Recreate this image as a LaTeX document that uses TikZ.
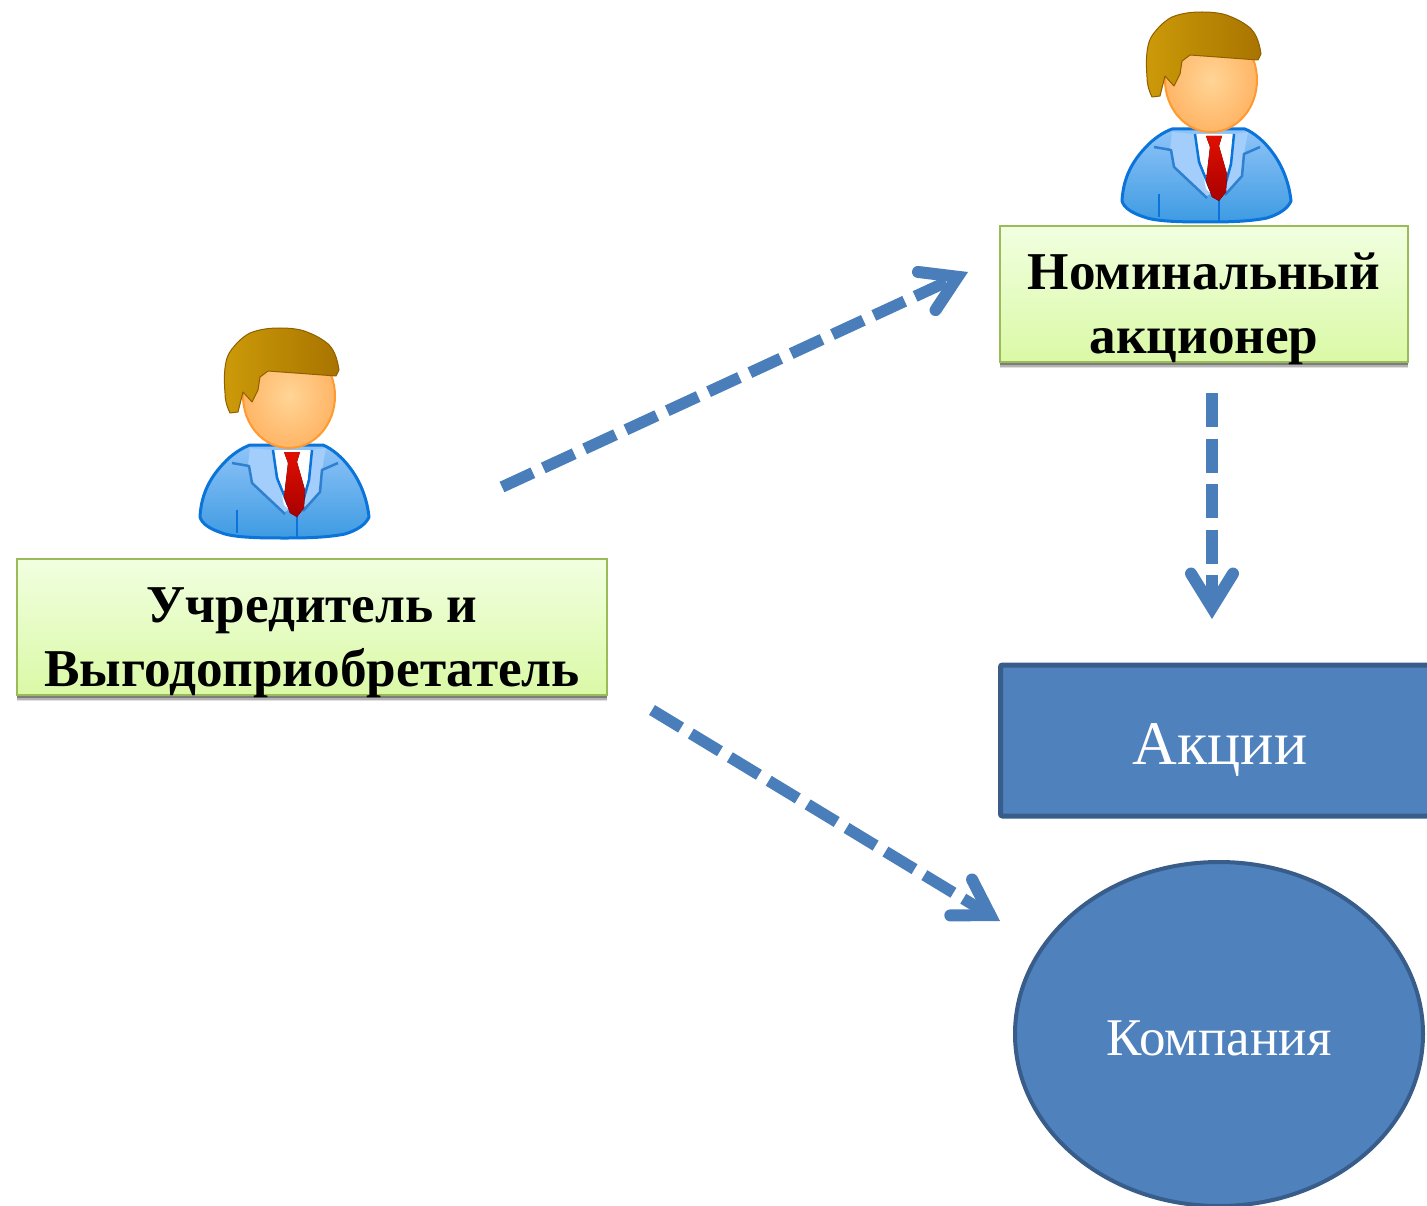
\documentclass[tikz,border=0pt]{standalone}
\usepackage{fontspec}
\setmainfont{Liberation Serif}
\usetikzlibrary{arrows.meta,shadows,shapes.geometric}
\definecolor{flowblue}{HTML}{4F81BD}
\definecolor{flowedge}{HTML}{385D8A}
\definecolor{greenedge}{HTML}{9BBB59}
\definecolor{greentop}{HTML}{F1FFE0}
\definecolor{greenbot}{HTML}{DAF9A6}
\definecolor{arrowblue}{HTML}{4A7EBB}
\definecolor{suittop}{HTML}{8FC4F8}
\definecolor{suitbot}{HTML}{3E9BE2}
\definecolor{suitedge}{HTML}{0B74DA}
\definecolor{lapel}{HTML}{A3CDFB}
\definecolor{lapelline}{HTML}{2F80D0}
\definecolor{hairl}{HTML}{CC9A08}
\definecolor{hairr}{HTML}{A87400}
\definecolor{hairedge}{HTML}{8F6000}
\definecolor{facein}{HTML}{FFD596}
\definecolor{faceout}{HTML}{FFB566}
\definecolor{faceedge}{HTML}{FF9A30}
\definecolor{tietop}{HTML}{E01000}
\definecolor{tiebot}{HTML}{A80000}
\tikzset{
  softshadow/.style={
    drop shadow={shadow xshift=0pt,shadow yshift=-6pt,opacity=.12,fill=black},
    drop shadow={shadow xshift=0pt,shadow yshift=-4.5pt,opacity=.2,fill=black},
    drop shadow={shadow xshift=0pt,shadow yshift=-3pt,opacity=.3,fill=black}},
  labelbox/.style={draw=greenedge,line width=2pt,top color=greentop,bottom color=greenbot,
    minimum height=136pt,align=center,inner xsep=0pt,inner ysep=-8pt,
    font=\fontsize{53.2}{64}\selectfont\bfseries,text=black,softshadow},
  bluefig/.style={draw=flowedge,line width=5pt,fill=flowblue,text=white,inner sep=0pt},
  flowarrow/.style={draw=arrowblue,line width=11.5pt,dash pattern=on 34pt off 11.5pt,
    -{Straight Barb[line cap=round,line join=miter,length=34pt,width=42pt,line width=12pt]}},
  personicon/.pic={
    % body
    \path[top color=suittop,bottom color=suitbot,draw=suitedge,line width=3pt,line join=round]
      (200,517) .. controls (201,497) and (208,480) .. (223,464)
      .. controls (232,454) and (242,448) .. (250,445)
      -- (323,445) .. controls (340,452) and (365,478) .. (369,517)
      .. controls (366,524) and (358,530) .. (345,534)
      .. controls (325,538) and (300,538) .. (285,538)
      .. controls (265,538) and (235,538) .. (222,533)
      .. controls (210,529) and (202,524) .. (200,517) -- cycle;
    % lapel panels
    \fill[lapel] (250,448) -- (272,450) -- (288,510) -- (283,513) -- (252,483) -- (248,465) -- cycle;
    \fill[lapel] (312,450) -- (326,448) -- (322,470) -- (320,492) -- (303,510) -- (299,505) -- cycle;
    % shirt
    \fill[white] (273,450) -- (312,450) -- (306,492) -- (296,516) -- (284,505) -- cycle;
    % lapel lines
    \draw[lapelline,line width=2.5pt,line join=round]
      (232,463) -- (249,466) -- (252,483) -- (285,514);
    \draw[suitedge,line width=2.5pt,line join=round]
      (273,450) -- (277,478) -- (288,505);
    \draw[lapelline,line width=2.5pt,line join=round]
      (338,463) -- (322,470) -- (320,492) -- (303,511);
    \draw[suitedge,line width=2.5pt,line join=round]
      (312,450) -- (309,480) -- (302,505);
    \draw[suitedge,line width=2.5pt] (297,517) -- (297,537);
    \draw[suitedge,line width=2.5pt] (237,510) -- (237,533);
    % tie
    \fill[top color=tietop,bottom color=tiebot]
      (284,452) -- (300,452) -- (297,462) -- (305,490) -- (304,508) -- (297,517)
      -- (290,513) -- (284,497) -- (288,463) -- cycle;
    % face
    \path[inner color=facein,outer color=faceout,draw=faceedge,line width=2pt]
      (289,396) ellipse [x radius=46,y radius=52];
    % hair
    \path[left color=hairl,right color=hairr,draw=hairedge,line width=1pt,line join=round]
      (230,413) .. controls (226,405) and (225,398) .. (225,393)
      .. controls (224,380) and (224,368) .. (227,358)
      .. controls (230,350) and (233,348) .. (237,343)
      .. controls (242,338) and (246,335) .. (250,333)
      .. controls (260,329) and (270,328) .. (280,328)
      .. controls (290,328) and (300,329) .. (307,332)
      .. controls (315,335) and (322,339) .. (327,343)
      .. controls (333,348) and (337,356) .. (339,370)
      -- (336,376) -- (268,371) -- (260,377) -- (258,390) -- (252,402)
      -- (243,392) -- (238,412) -- cycle;
  }
}
\begin{document}
\begin{tikzpicture}[x=1pt,y=-1pt]
\useasboundingbox (0,0) rectangle (1427,1206);
\begin{scope}
\clip (0,0) rectangle (1427,1206);
\pic at (0,0) {personicon};
\pic at (922,-316) {personicon};

\node[labelbox,minimum width=590pt] (founder) at (312,627) {\rule{0pt}{66pt}Учредитель и\\Выгодоприобретатель};
\node[labelbox,minimum width=408pt] (nominee) at (1204,294) {\rule{0pt}{66pt}Номинальный\\акционер};

\node[bluefig,rounded corners=2pt,minimum width=460pt,minimum height=151pt,anchor=west] (shares) at (998,740.5) {};
\node[text=white,font=\fontsize{62}{70}\selectfont,anchor=center] (shareslabel) at (1220,750) {Акции};
\node[bluefig,line width=4pt,ellipse,minimum width=408pt,minimum height=344pt,
      font=\fontsize{53}{60}\selectfont] (company) at (1219,1034) {\rule{0pt}{44pt}Компания};

\coordinate (a1s) at (502,487);
\coordinate (a1e) at (968,272);
\coordinate (a2s) at (1212,393);
\coordinate (a2e) at (1212,619);
\coordinate (a3s) at (652,710);
\coordinate (a3e) at (1000,921);
\draw[flowarrow] (a1s) -- (a1e);
\draw[flowarrow] (a2s) -- (a2e);
\draw[flowarrow] (a3s) -- (a3e);
\end{scope}
\end{tikzpicture}
\end{document}
